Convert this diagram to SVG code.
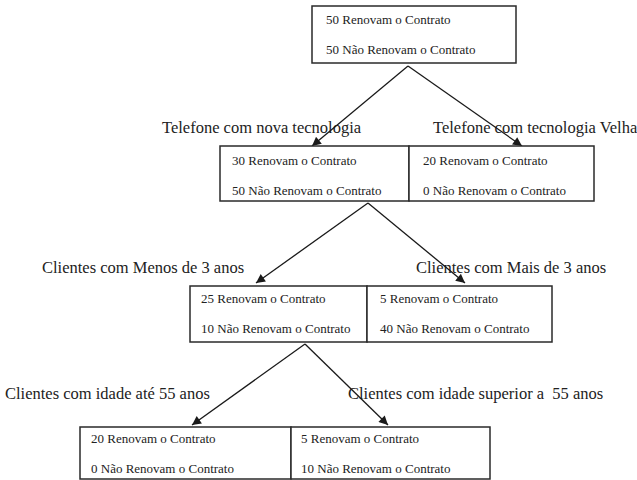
<svg xmlns="http://www.w3.org/2000/svg" width="637" height="480" viewBox="0 0 637 480">
  <style>
    .box { fill: #fff; stroke: #2a2a2a; stroke-width: 1.5; }
    .t { font-size: 13px; fill: #222; }
    .lbl { font-size: 16.5px; fill: #222; white-space: pre; }
    .edge { stroke: #1a1a1a; stroke-width: 1.3; fill: none; marker-end: url(#arrow); }
  </style>
  <defs>
    <marker id="arrow" viewBox="0 0 10 10" refX="10" refY="5" markerWidth="10" markerHeight="9" markerUnits="userSpaceOnUse" orient="auto">
      <path d="M0,0 L10,5 L0,10 z" fill="#1a1a1a"/>
    </marker>
  </defs>
  <rect width="637" height="480" fill="#fff"/>

  <g font-family="Liberation Serif, Times New Roman, Tinos, DejaVu Serif, serif">
  <!-- branch labels -->
  <g id="labels">
    <text class="lbl" x="162" y="133">Telefone com nova tecnologia</text>
    <text class="lbl" x="433" y="133">Telefone com tecnologia Velha</text>
    <text class="lbl" x="42" y="273">Clientes com Menos de 3 anos</text>
    <text class="lbl" x="416" y="273">Clientes com Mais de 3 anos</text>
    <text class="lbl" x="5" y="399">Clientes com idade até 55 anos</text>
    <text class="lbl" x="348" y="399">Clientes com idade superior a  55 anos</text>
  </g>

  <!-- connectors -->
  <g id="connectors">
    <line class="edge" x1="408" y1="66" x2="312" y2="146"/>
    <line class="edge" x1="408" y1="66" x2="522" y2="146"/>
    <line class="edge" x1="368" y1="203" x2="256" y2="283"/>
    <line class="edge" x1="368" y1="203" x2="465" y2="283"/>
    <line class="edge" x1="305" y1="344" x2="192" y2="425"/>
    <line class="edge" x1="305" y1="344" x2="388" y2="425"/>
  </g>

  <!-- root -->
  <g id="root">
    <rect class="box" x="312" y="6" width="204" height="57"/>
    <text class="t" x="326" y="24">50 Renovam o Contrato</text>
    <text class="t" x="326" y="54">50 Não Renovam o Contrato</text>
  </g>

  <!-- level 1 -->
  <g id="nova">
    <rect class="box" x="220" y="146" width="189" height="55"/>
    <text class="t" x="232" y="165">30 Renovam o Contrato</text>
    <text class="t" x="232" y="195">50 Não Renovam o Contrato</text>
  </g>
  <g id="velha">
    <rect class="box" x="409" y="146" width="185" height="55"/>
    <text class="t" x="423" y="165">20 Renovam o Contrato</text>
    <text class="t" x="423" y="195">0 Não Renovam o Contrato</text>
  </g>

  <!-- level 2 -->
  <g id="menos3">
    <rect class="box" x="190" y="286" width="177" height="56"/>
    <text class="t" x="201" y="303">25 Renovam o Contrato</text>
    <text class="t" x="201" y="333">10 Não Renovam o Contrato</text>
  </g>
  <g id="mais3">
    <rect class="box" x="367" y="286" width="185" height="56"/>
    <text class="t" x="380" y="303">5 Renovam o Contrato</text>
    <text class="t" x="380" y="333">40 Não Renovam o Contrato</text>
  </g>

  <!-- level 3 -->
  <g id="ate55">
    <rect class="box" x="80" y="427" width="211" height="52"/>
    <text class="t" x="91" y="443">20 Renovam o Contrato</text>
    <text class="t" x="91" y="473">0 Não Renovam o Contrato</text>
  </g>
  <g id="acima55">
    <rect class="box" x="291" y="427" width="199" height="52"/>
    <text class="t" x="301" y="443">5 Renovam o Contrato</text>
    <text class="t" x="301" y="473">10 Não Renovam o Contrato</text>
  </g>
  </g>
</svg>
